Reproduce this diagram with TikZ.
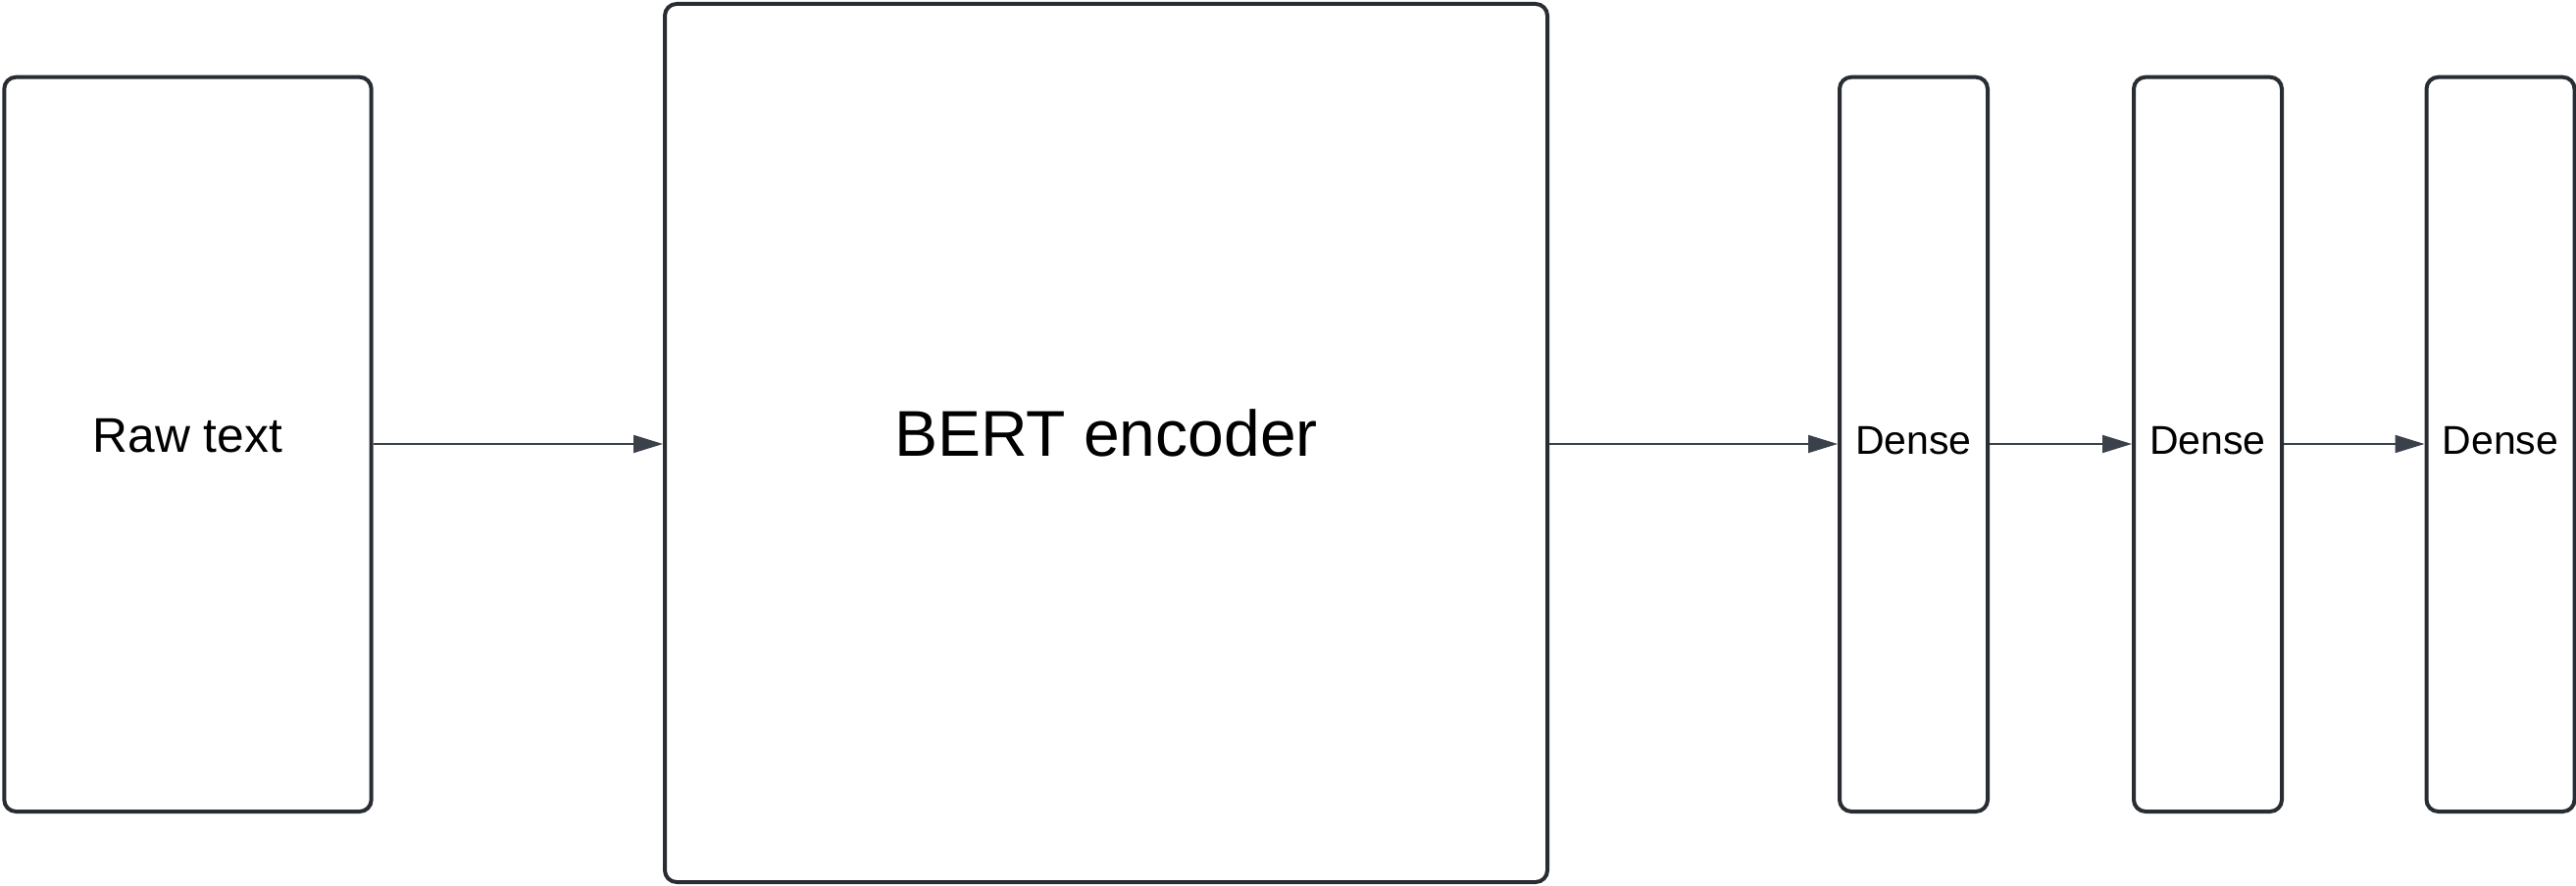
\documentclass[tikz,border=0pt]{standalone}
\usepackage{fontspec}
\setmainfont{Liberation Sans}
\usetikzlibrary{arrows.meta}
\definecolor{boxline}{HTML}{282C33}
\definecolor{arrowline}{HTML}{3A414A}
\begin{document}
\begin{tikzpicture}[x=1pt,y=-1pt,
  block/.style={draw=boxline, line width=4pt, rounded corners=12pt, fill=white,
    inner sep=0pt, outer sep=0pt, minimum width=#1},
  block/.default=151pt,
  lbl/.style={inner sep=0pt, text=black},
  flow/.style={draw=arrowline, line width=2pt,
    -{Triangle[length=30pt,width=18pt]}, shorten >=2pt, shorten <=2pt}]
\useasboundingbox (0,0) rectangle (2627,904);
% boxes
\node[block=374.4pt, minimum height=749.3pt,
  label={[lbl, font=\fontsize{49.7}{60}\selectfont, yshift=9pt]center:Raw text}]
  (raw) at (191.5,453.35) {};
\node[block=900pt, minimum height=896pt,
  label={[lbl, font=\fontsize{66}{79}\selectfont, yshift=10pt]center:BERT encoder}]
  (bert) at (1128,452) {};
\node[block, minimum height=749.3pt,
  label={[lbl, font=\fontsize{41}{49}\selectfont, yshift=4pt]center:Dense}]
  (d1) at (1951.5,453.35) {};
\node[block, minimum height=749.3pt,
  label={[lbl, font=\fontsize{41}{49}\selectfont, yshift=4pt]center:Dense}]
  (d2) at (2251.5,453.35) {};
\node[block, minimum height=749.3pt,
  label={[lbl, font=\fontsize{41}{49}\selectfont, yshift=4pt]center:Dense}]
  (d3) at (2550,453.35) {};
% connectors
\draw[flow] (raw.east |- 0,453) -- (bert.west |- 0,453);
\draw[flow] (bert.east |- 0,453) -- (d1.west |- 0,453);
\draw[flow] (d1.east |- 0,453) -- (d2.west |- 0,453);
\draw[flow] (d2.east |- 0,453) -- (d3.west |- 0,453);
\end{tikzpicture}
\end{document}
